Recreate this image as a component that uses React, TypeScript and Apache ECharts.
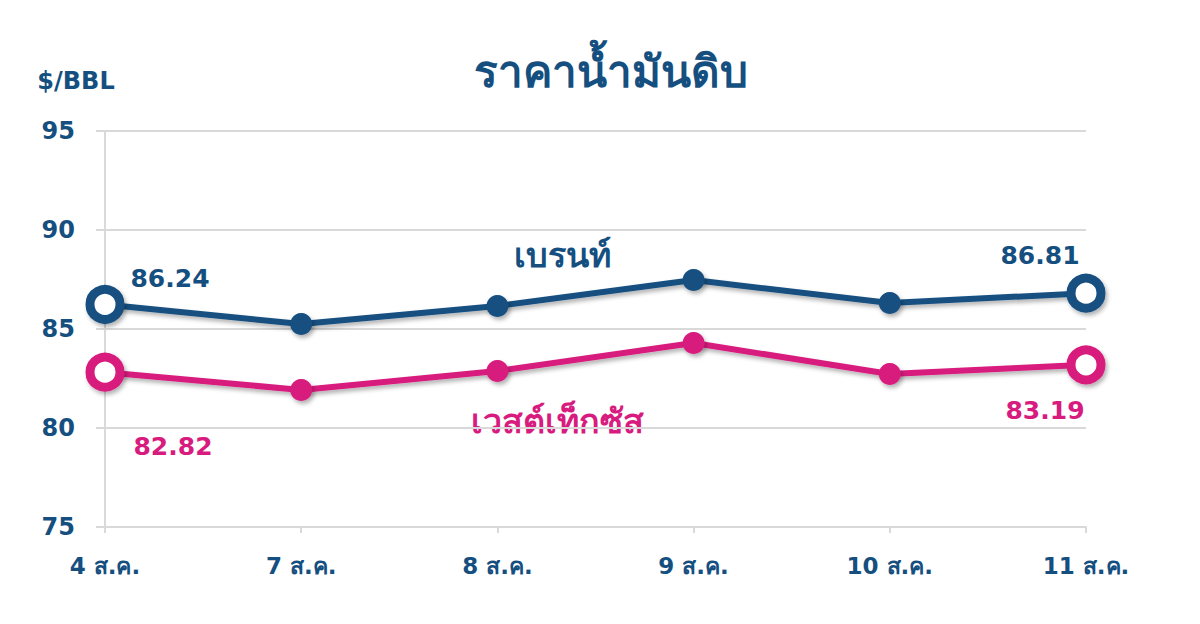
import { useEffect, useRef } from "react";
import * as echarts from "echarts";

const categories = ["4 ส.ค.", "7 ส.ค.", "8 ส.ค.", "9 ส.ค.", "10 ส.ค.", "11 ส.ค."];
const brentValues = [86.24, 85.25, 86.16, 87.47, 86.31, 86.81];
const wtiValues = [82.82, 81.92, 82.88, 84.29, 82.73, 83.19];
const yTicks = { min: 75, max: 95, interval: 5 };

const BLUE = "#154f80";
const PINK = "#d81b7e";
const GRAY = "#d9d9d9";
const FONT = "'DejaVu Sans', 'Noto Sans', sans-serif";

const makeData = (
  values: number[],
  color: string,
  firstLabel: { offset: number[] },
  lastLabel: { offset: number[] }
) =>
  values.map((v, i) => {
    const isEnd = i === 0 || i === values.length - 1;
    if (!isEnd) return { value: v, symbolSize: 22, itemStyle: { color, borderWidth: 0 } };
    const lab = i === 0 ? firstLabel : lastLabel;
    return {
      value: v,
      symbolSize: 30,
      itemStyle: { color: "#ffffff", borderColor: color, borderWidth: 9 },
      label: {
        show: true,
        position: "inside",
        offset: lab.offset,
        formatter: v.toFixed(2),
        color,
        fontSize: 25,
        fontWeight: "bold",
        fontFamily: FONT,
      },
    };
  });

const App = () => {
  const ref = useRef<HTMLDivElement>(null);

  useEffect(() => {
    if (!ref.current) return;
    const chart = echarts.init(ref.current, undefined, { renderer: "svg" });

    const shadow = {
      shadowColor: "rgba(0,0,0,0.3)",
      shadowBlur: 4,
      shadowOffsetX: 2,
      shadowOffsetY: 3,
    };

    chart.setOption({
      animation: false,
      backgroundColor: "#ffffff",
      title: {
        text: "ราคาน้ำมันดิบ",
        left: 606,
        top: 44,
        textAlign: "center",
        textStyle: { color: BLUE, fontSize: 44, fontWeight: "bold", fontFamily: FONT },
      },
      grid: { left: 105, right: 114, top: 131, bottom: 97 },
      xAxis: {
        type: "category",
        data: categories,
        boundaryGap: false,
        axisLine: { lineStyle: { color: GRAY, width: 2 } },
        axisTick: { show: true, length: 6, lineStyle: { color: GRAY, width: 2 } },
        axisLabel: {
          margin: 27,
          color: BLUE,
          fontSize: 23,
          fontWeight: "bold",
          fontFamily: FONT,
        },
        splitLine: { show: false },
      },
      yAxis: {
        type: "value",
        min: yTicks.min,
        max: yTicks.max,
        interval: yTicks.interval,
        name: "$/BBL",
        nameLocation: "end",
        nameGap: 38,
        nameTextStyle: {
          color: BLUE,
          fontSize: 24,
          fontWeight: "bold",
          fontFamily: FONT,
          align: "center",
          padding: [0, 0, 0, -58],
        },
        axisLine: { show: true, lineStyle: { color: GRAY, width: 2 } },
        axisTick: { show: true, length: 9, lineStyle: { color: GRAY, width: 2 } },
        axisLabel: {
          margin: 30,
          color: BLUE,
          fontSize: 24,
          fontWeight: "bold",
          fontFamily: FONT,
        },
        splitLine: { show: true, lineStyle: { color: GRAY, width: 2 } },
      },
      series: [
        {
          name: "เบรนท์",
          type: "line",
          symbol: "circle",
          data: makeData(brentValues, BLUE, { offset: [65, -26] }, { offset: [-46, -38] }),
          lineStyle: { color: BLUE, width: 6, ...shadow },
          itemStyle: { ...shadow },
          z: 3,
        },
        {
          name: "เวสต์เท็กซัส",
          type: "line",
          symbol: "circle",
          data: makeData(wtiValues, PINK, { offset: [68, 74] }, { offset: [-41, 46] }),
          lineStyle: { color: PINK, width: 6, ...shadow },
          itemStyle: { ...shadow },
          z: 2,
        },
      ],
      graphic: [
        {
          type: "text",
          left: 514,
          top: 238,
          style: {
            text: "เบรนท์",
            fill: BLUE,
            fontSize: 34,
            fontWeight: "bold",
            fontFamily: FONT,
          },
        },
        {
          type: "text",
          left: 471,
          top: 404,
          style: {
            text: "เวสต์เท็กซัส",
            fill: PINK,
            fontSize: 34,
            fontWeight: "bold",
            fontFamily: FONT,
          },
        },
      ],
    });

    return () => chart.dispose();
  }, []);

  return <div ref={ref} style={{ width: 1200, height: 624, margin: -8 }} />;
};

export default App;
